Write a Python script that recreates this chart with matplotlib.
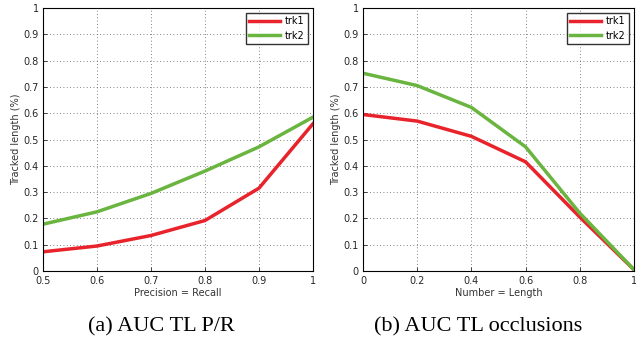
import matplotlib

matplotlib.use("Agg")
import matplotlib.pyplot as plt

plt.rcParams.update({"font.size": 7, "font.family": "DejaVu Sans"})

pr_x = [0.5, 0.6, 0.7, 0.8, 0.9, 1.0]
pr_trk1 = [0.073, 0.095, 0.135, 0.192, 0.315, 0.56]
pr_trk2 = [0.178, 0.225, 0.295, 0.38, 0.472, 0.585]

occ_x = [0.0, 0.2, 0.4, 0.6, 0.8, 1.0]
occ_trk1 = [0.595, 0.57, 0.512, 0.415, 0.205, 0.005]
occ_trk2 = [0.752, 0.705, 0.622, 0.472, 0.22, 0.005]

yticks = [0, 0.1, 0.2, 0.3, 0.4, 0.5, 0.6, 0.7, 0.8, 0.9, 1]
ytick_labels = ["0", "0.1", "0.2", "0.3", "0.4", "0.5", "0.6", "0.7", "0.8", "0.9", "1"]

red = "#e8232b"
green = "#6ab440"

fig = plt.figure(figsize=(6.36, 3.43), dpi=100)
ax1 = fig.add_axes([43 / 636, 1 - 271 / 343, 270 / 636, 263 / 343])
ax2 = fig.add_axes([363 / 636, 1 - 271 / 343, 271 / 636, 263 / 343])


def style(ax, x, xlabels, xlabel):
    ax.set_xlim(x[0], x[-1])
    ax.set_ylim(0, 1)
    ax.set_xticks(x)
    ax.set_xticklabels(xlabels)
    ax.set_yticks(yticks)
    ax.set_yticklabels(ytick_labels)
    ax.grid(True, linestyle=(0, (1, 3)), color="0.35", linewidth=0.6)
    ax.tick_params(direction="in", length=3, width=0.6, pad=2, colors="0.15")
    ax.tick_params(axis="x", pad=3.5)
    ax.tick_params(axis="y", pad=3)
    for s in ax.spines.values():
        s.set_linewidth(0.8)
    ax.set_xlabel(xlabel, labelpad=1.5, color="0.2")
    ax.set_ylabel("Tracked length (%)", labelpad=2, color="0.2")
    leg = ax.legend(loc="upper right", fancybox=False, edgecolor="k",
                    borderaxespad=0.5, handlelength=3.2, labelspacing=0.45,
                    borderpad=0.35, handletextpad=0.5)
    leg.get_frame().set_linewidth(1.0)


ax1.plot(pr_x, pr_trk1, color=red, lw=2.5, label="trk1")
ax1.plot(pr_x, pr_trk2, color=green, lw=2.5, label="trk2")
style(ax1, pr_x, ["0.5", "0.6", "0.7", "0.8", "0.9", "1"], "Precision = Recall")

ax2.plot(occ_x, occ_trk1, color=red, lw=2.5, label="trk1")
ax2.plot(occ_x, occ_trk2, color=green, lw=2.5, label="trk2")
style(ax2, occ_x, ["0", "0.2", "0.4", "0.6", "0.8", "1"], "Number = Length")

fig.text(161 / 636, 1 - 327 / 343, "(a) AUC TL P/R", ha="center", va="center",
         family="Liberation Serif", fontsize=16)
fig.text(478 / 636, 1 - 327 / 343, "(b) AUC TL occlusions", ha="center", va="center",
         family="Liberation Serif", fontsize=16)

fig.savefig("out.png", dpi=100)
